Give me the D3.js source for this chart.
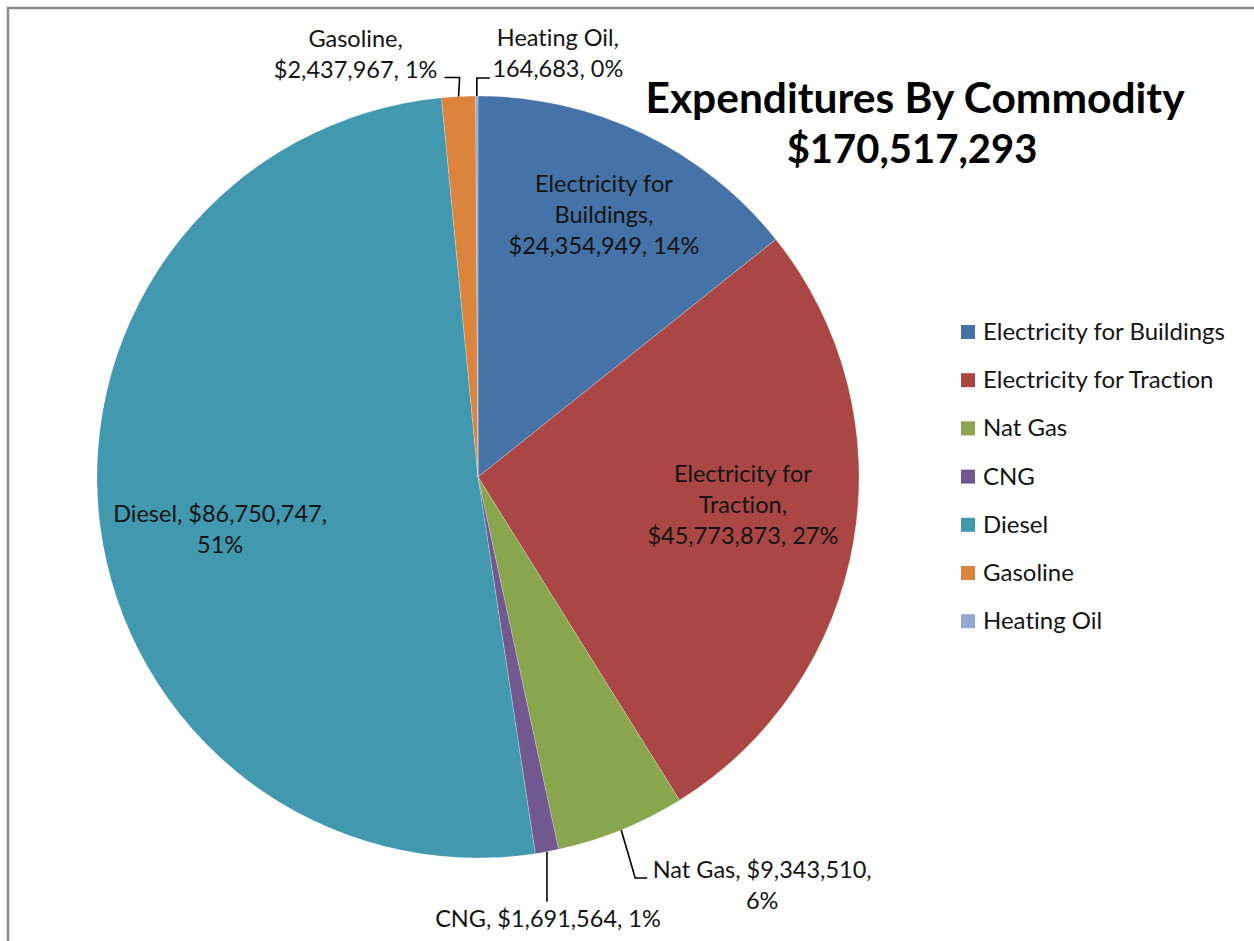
<!DOCTYPE html>
<html>
<head>
<meta charset="utf-8">
<script src="https://cdn.jsdelivr.net/npm/d3@7"></script>
<style>
  html, body { margin: 0; padding: 0; background: #fff; }
  svg { display: block; }
  text { font-variant-ligatures: none; font-feature-settings: "liga" 0; }
</style>
</head>
<body>
<svg id="chart" width="1254" height="941"></svg>
<script>
// Commodity expenditures (USD)
const categories = ["Electricity for Buildings", "Electricity for Traction", "Nat Gas", "CNG", "Diesel", "Gasoline", "Heating Oil"];
const values = [24354949, 45773873, 9343510, 1691564, 86750747, 2437967, 164683];
const percentLabels = ["14%", "27%", "6%", "1%", "51%", "1%", "0%"];
const showDollar = [true, true, true, true, true, true, false];
const colors = ["#4572A7", "#AA4643", "#89A54E", "#71588F", "#4198AF", "#DB843D", "#93A9CF"];
const titleLines = ["Expenditures By Commodity", "$170,517,293"];

// words per line for each data label
const wrap = [[2, 1, 2], [2, 1, 2], [3, 1], [4], [2, 1], [1, 2], [2, 2]];

// label placement: inside labels sit near the slice centroid, outside labels use a bent leader line
const labelLayout = [
  { inside: true, rFrac: 0.762, dx: 0, dy: 0 },
  { inside: true, rFrac: 0.70, dx: 2, dy: -17 },
  { inside: false, elbow: [14, 48], end: [26, 48], text: [141, 48] },
  { inside: false, elbow: [0, 50], end: [0, 50], text: [1, 75] },
  { inside: true, rFrac: 0.69, dx: 3, dy: 20 },
  { inside: false, elbow: [1, -19], end: [-14, -19], text: [-103, -50] },
  { inside: false, elbow: [0, -18], end: [13, -18], text: [81, -50] }
];

const FONT = "Lato, 'Open Sans', sans-serif";
const cx = 478, cy = 477, R = 381;
const lineH = 31;
const labelSize = 23.5;

const svg = d3.select("#chart");

// frame lines along the top and left edges
svg.append("path")
  .attr("d", "M8,941 V8 H1254")
  .attr("fill", "none")
  .attr("stroke", "#8a8a8a")
  .attr("stroke-width", 2.5);

const data = categories.map((c, i) => ({ name: c, value: values[i], i }));

const pie = d3.pie().sort(null).value(d => d.value);
const arcs = pie(data);
const arc = d3.arc().innerRadius(0).outerRadius(R);

const g = svg.append("g").attr("transform", `translate(${cx},${cy})`);

g.selectAll("path.slice")
  .data(arcs)
  .join("path")
  .attr("class", "slice")
  .attr("d", arc)
  .attr("fill", d => colors[d.data.i])
  .attr("stroke", "#ffffff")
  .attr("stroke-width", 0.4)
  .attr("stroke-opacity", 0.6);

const fmt = d3.format(",");

function labelLines(d) {
  const i = d.data.i;
  const words = [
    ...(categories[i] + ",").split(" "),
    (showDollar[i] ? "$" : "") + fmt(values[i]) + ",",
    percentLabels[i]
  ];
  const lines = [];
  let k = 0;
  wrap[i].forEach(n => { lines.push(words.slice(k, k + n).join(" ")); k += n; });
  return lines;
}

const labels = g.append("g")
  .attr("font-family", FONT)
  .attr("font-size", labelSize)
  .attr("fill", "#141414")
  .attr("text-anchor", "middle");

arcs.forEach(d => {
  const i = d.data.i;
  const L = labelLayout[i];
  const lines = labelLines(d);
  const mid = (d.startAngle + d.endAngle) / 2;
  let tx, firstBaseline;
  if (L.inside) {
    const r = R * L.rFrac;
    const px = r * Math.sin(mid) + L.dx;
    const py = -r * Math.cos(mid) + L.dy;
    tx = px;
    // vertically center the block on the anchor point
    firstBaseline = py - ((lines.length - 1) * lineH) / 2 + 8;
  } else {
    const ex = R * Math.sin(mid), ey = -R * Math.cos(mid);
    g.append("polyline")
      .attr("points", [[ex, ey], [ex + L.elbow[0], ey + L.elbow[1]], [ex + L.end[0], ey + L.end[1]]].map(p => p.join(",")).join(" "))
      .attr("fill", "none")
      .attr("stroke", "#000")
      .attr("stroke-width", 1.6);
    tx = ex + L.text[0];
    firstBaseline = ey + L.text[1];
  }
  const t = labels.append("text");
  lines.forEach((ln, j) => {
    t.append("tspan")
      .attr("x", tx)
      .attr("y", firstBaseline + j * lineH)
      .text(ln);
  });
});

// title
const title = svg.append("text")
  .attr("font-family", FONT)
  .attr("font-weight", 700)
  .attr("fill", "#000")
  .attr("text-anchor", "middle");
title.append("tspan").attr("x", 915).attr("y", 113).attr("font-size", 42.5).text(titleLines[0]);
title.append("tspan").attr("x", 912).attr("y", 163).attr("font-size", 40).text(titleLines[1]);

// legend
const legend = svg.append("g").attr("transform", "translate(961,332)");
const items = legend.selectAll("g")
  .data(categories)
  .join("g")
  .attr("transform", (d, i) => `translate(0,${i * 48.2})`);
items.append("rect")
  .attr("x", 0).attr("y", -7)
  .attr("width", 14).attr("height", 14)
  .attr("fill", (d, i) => colors[i]);
items.append("text")
  .attr("x", 22).attr("y", 8)
  .attr("font-family", FONT)
  .attr("font-size", 24)
  .attr("fill", "#141414")
  .text(d => d);
</script>
</body>
</html>
